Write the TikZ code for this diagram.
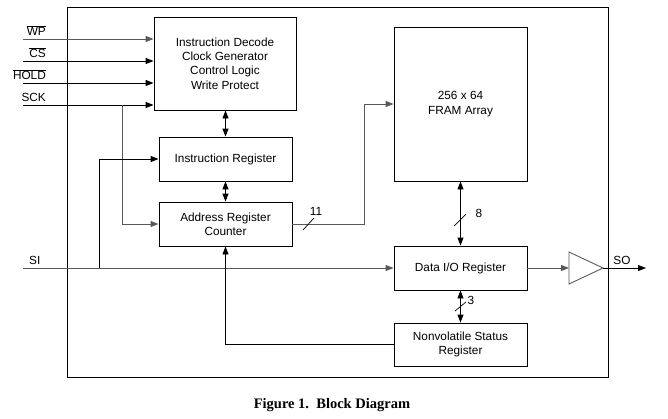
\documentclass[tikz,border=0pt]{standalone}
\usepackage{fontspec}
\setmainfont{Liberation Sans}
\newfontfamily\capfont{Liberation Serif}
\usetikzlibrary{arrows.meta}
\begin{document}
\begin{tikzpicture}[x=1pt,y=-1pt,
  blk/.style={draw=black,line width=0.9pt,minimum width=133pt,minimum height=44pt,inner sep=0pt,align=center,font=\fontsize{11.8}{14.3}\selectfont},
  lbl/.style={font=\fontsize{11.8}{14}\selectfont,inner sep=0pt},
  wire/.style={line width=0.9pt,draw=black},
  gwire/.style={line width=0.9pt,draw=black!65},
  arr/.style={-{Triangle[length=8pt,width=6pt]}},
  barr/.style={{Triangle[length=8pt,width=6pt]}-{Triangle[length=8pt,width=6pt]}},
  slash/.style={line width=0.7pt,draw=black}]
\useasboundingbox (0,0) rectangle (668,418);
\draw[line width=0.9pt] (67,7) rectangle (608,377);
% blocks
\node[blk,minimum width=142pt,minimum height=93pt] (ctrl) at (225,63.5) {Instruction Decode\\Clock Generator\\Control Logic\\Write Protect};
\node[blk] (IR) at (225.5,159) {Instruction Register};
\node[blk] (AR) at (225.5,224) {Address Register\\Counter};
\node[blk,minimum height=154pt] (FRAM) at (460.5,104) {256 x 64\\FRAM Array};
\node[blk] (DIO) at (460.5,268) {Data I/O Register};
\node[blk,minimum height=43pt] (NV) at (460.5,344.5) {Nonvolatile Status\\Register};
% inputs
\coordinate (wpS) at (23,39);
\coordinate (csS) at (23,61);
\coordinate (hdS) at (23,83);
\coordinate (skS) at (23,105);
\coordinate (siS) at (23,268);
\node[lbl,anchor=south east] (wpL) at (46,36) {$\overline{\mbox{WP}}$};
\node[lbl,anchor=south east] (csL) at (46,58) {$\overline{\mbox{CS}}$};
\node[lbl,anchor=south east] (hdL) at (46,80) {$\overline{\mbox{HOLD}}$};
\node[lbl,anchor=south east] (skL) at (46,102) {SCK};
\node[lbl,anchor=south west] (siL) at (29,265) {SI};
\draw[gwire,arr] (wpS) -- (wpS -| ctrl.west);
\draw[wire,arr] (csS) -- (csS -| ctrl.west);
\draw[wire,arr] (hdS) -- (hdS -| ctrl.west);
\draw[wire,arr] (skS) -- (skS -| ctrl.west);
\coordinate (skB) at (122,105);
\draw[gwire,arr] (skB) |- (AR.west);
\draw[gwire,arr] (siS) -- (DIO.west);
\coordinate (siB) at (99,268);
\draw[wire,arr] (siB) |- (IR.west);
% internal
\draw[wire,barr] (ctrl.south -| IR.north) -- (IR.north);
\draw[wire,barr] (IR.south) -- (AR.north);
\draw[wire,arr] (NV.west) -| (AR.south);
\coordinate (busC) at (364,224);
\draw[gwire,arr] (AR.east) -- (busC) |- (FRAM.west);
\draw[slash] (303,230) -- (314,218);
\node[lbl] (n11) at (316,211) {11};
\draw[wire,barr] (FRAM.south) -- (DIO.north);
\draw[slash] (454,226) -- (466,214);
\node[lbl] (n8) at (479,213) {8};
\draw[wire,barr] (DIO.south) -- (NV.north);
\draw[slash] (455,311) -- (466,302);
\node[lbl] (n3) at (471,300) {3};
% buffer
\coordinate (bufT) at (569,252);
\coordinate (bufB) at (569,284);
\coordinate (bufP) at (603,268);
\coordinate (bufI) at (569,268);
\draw[gwire] (bufT) -- (bufP) -- (bufB) -- cycle;
\draw[gwire,arr] (DIO.east) -- (bufI);
\coordinate (soE) at (646,268);
\draw[wire,arr] (bufP) -- (soE);
\node[lbl] (soL) at (622,260) {SO};
% caption
\node[font=\capfont\bfseries\fontsize{14.5}{16}\selectfont] (cap) at (332,405) {Figure 1.\ \ Block Diagram};
\end{tikzpicture}
\end{document}
